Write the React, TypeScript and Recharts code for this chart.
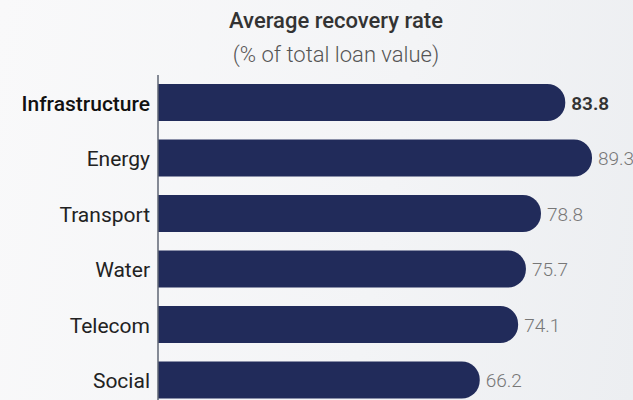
import { BarChart, Bar, XAxis, YAxis, LabelList } from 'recharts';

const sectors = ['Infrastructure', 'Energy', 'Transport', 'Water', 'Telecom', 'Social'];
const recoveryRates = [83.8, 89.3, 78.8, 75.7, 74.1, 66.2];
const highlighted = 'Infrastructure';

const chartData = sectors.map((name, i) => ({ name, rate: recoveryRates[i] }));

const FONT = 'Roboto, "Noto Sans", sans-serif';

const SectorTick = ({ x, y, payload }: { x?: number; y?: number; payload?: { value: string } }) => {
  const isHi = payload?.value === highlighted;
  return (
    <text
      x={x}
      y={y}
      dy={8}
      textAnchor="end"
      fontFamily={FONT}
      fontSize={21}
      fontWeight={isHi ? 500 : 400}
      fill={isHi ? '#111111' : '#222222'}
    >
      {payload?.value}
    </text>
  );
};

const ValueLabel = (props: any) => {
  const { x, y, width, height, value, index } = props;
  const isHi = sectors[index] === highlighted;
  return (
    <text
      x={x + width + 6}
      y={y + height / 2}
      dy={7}
      fontFamily={FONT}
      fontSize={19}
      fontWeight={isHi ? 600 : 300}
      fill={isHi ? '#333333' : '#777777'}
    >
      {value}
    </text>
  );
};

export default function App() {
  return (
    <div
      style={{
        position: 'fixed',
        top: 0,
        left: 0,
        width: 633,
        height: 400,
        overflow: 'hidden',
        background: 'linear-gradient(100deg, #f9f9fa 0%, #f3f4f6 60%, #eceef1 100%)',
        fontFamily: FONT,
      }}
    >
      <div style={{ position: 'absolute', top: 10, left: 186, width: 300, textAlign: 'center', fontSize: 22, lineHeight: '22px', fontWeight: 500, color: '#333' }}>
        Average recovery rate
      </div>
      <div style={{ position: 'absolute', top: 44, left: 186, width: 300, textAlign: 'center', fontSize: 22, lineHeight: '22px', fontWeight: 300, color: '#555' }}>
        (% of total loan value)
      </div>
      <div style={{ position: 'absolute', top: 0, left: 0 }}>
        <BarChart
          width={660}
          height={408}
          layout="vertical"
          data={chartData}
          margin={{ top: 75, right: 16, left: 0, bottom: 0 }}
        >
          <XAxis type="number" domain={[0, 100]} hide />
          <YAxis
            type="category"
            dataKey="name"
            width={158}
            tick={<SectorTick />}
            tickLine={false}
            axisLine={{ stroke: '#5f6675', strokeWidth: 1.5 }}
            interval={0}
          />
          <Bar dataKey="rate" fill="#212b5a" barSize={37} radius={[0, 18, 18, 0]} isAnimationActive={false}>
            <LabelList dataKey="rate" content={<ValueLabel />} />
          </Bar>
        </BarChart>
      </div>
    </div>
  );
}
